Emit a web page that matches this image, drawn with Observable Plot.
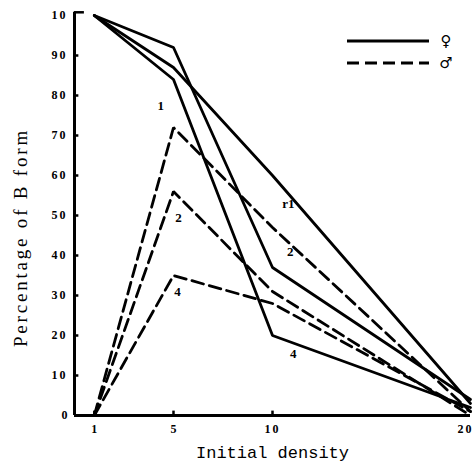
<!DOCTYPE html>
<html><head><meta charset="utf-8">
<script src="https://cdn.jsdelivr.net/npm/d3@7"></script>
<script src="https://cdn.jsdelivr.net/npm/@observablehq/plot@0.6"></script>
<style>
html,body{margin:0;padding:0;background:#fff;}
#wrap{position:relative;width:473px;height:469px;overflow:hidden;}
#legend{position:absolute;left:0;top:0;}
</style></head>
<body><div id="wrap"><div id="chart"></div><div id="legend"></div></div>
<script>
// ---- data ----
const densities = [1, 5, 10, 20];
const groups = ["1", "2", "4"];
const female1 = [100, 87, 60, 3];
const female2 = [100, 92, 37, 4];
const female4 = [100, 84, 20, 2];
const male1 = [0, 72, 47, 1];
const male2 = [0, 56, 31, 0];
const male4 = [0, 35, 28, 1];
const yTicks = [0, 10, 20, 30, 40, 50, 60, 70, 80, 90, 100];
const yTickLabels = ["0", "10", "20", "30", "40", "50", "60", "70", "80", "90", "10"];
const xTicks = [1, 5, 10, 20];
const xTickLabels = ["1", "5", "10", "20"];
const curveLabels = ["1", "2", "4", "r1", "2", "4"];
const curveLabelX = [4.35, 5.25, 5.2, 10.8, 10.9, 11.05];
const curveLabelY = [77.5, 49.3, 31, 53, 40.8, 15.5];
const xTitle = "Initial density";
const yTitle = "Percentage of B form";
const legendSymbols = ["\u2640", "\u2642"];

// ---- build tables ----
const femaleSeries = [female1, female2, female4];
const maleSeries = [male1, male2, male4];
const femaleRows = groups.flatMap((g, i) => densities.map((d, j) => ({group: g, density: d, value: femaleSeries[i][j]})));
const maleRows = groups.flatMap((g, i) => densities.map((d, j) => ({group: g, density: d, value: maleSeries[i][j]})));
const labelRows = curveLabels.map((t, i) => ({text: t, x: curveLabelX[i], y: curveLabelY[i]}));
const xTickRows = xTicks.map((v, i) => ({v, label: xTickLabels[i]}));
const lastX = xTicks[xTicks.length - 1];

const ink = "#000";
const tickFont = "Liberation Serif";

const chart = Plot.plot({
  width: 473,
  height: 469,
  marginLeft: 74,
  marginRight: 3,
  marginTop: 15,
  marginBottom: 54,
  x: {domain: [0, 20], axis: null},
  y: {domain: [0, 100]},
  style: {background: "#fff", color: ink},
  marks: [
    // axis lines
    Plot.ruleY([0], {stroke: ink, strokeWidth: 3}),
    Plot.ruleX([0], {y1: 0, y2: 100.8, stroke: ink, strokeWidth: 3}),
    Plot.ruleY([100.8], {x1: 0, x2: 0.5, stroke: ink, strokeWidth: 2.5}),
    // inward ticks
    Plot.ruleY(yTicks.filter(v => v > 0 && v < 100), {x1: 0, x2: 0.22, stroke: ink, strokeWidth: 2.5}),
    Plot.ruleX(xTicks.filter(v => v < lastX), {y1: 0, y2: 1.1, stroke: ink, strokeWidth: 2.5}),
    // tick labels
    Plot.axisY({ticks: yTicks, tickSize: 0, tickPadding: 7, tickFormat: (d) => yTickLabels[yTicks.indexOf(d)],
      fontFamily: tickFont, fontSize: 12, fontWeight: "bold"}),
    Plot.text(xTickRows.filter(d => d.v < lastX), {x: "v", text: "label", frameAnchor: "bottom", dy: 17,
      fontFamily: tickFont, fontSize: 12, fontWeight: "bold", fill: ink}),
    Plot.text(xTickRows.filter(d => d.v === lastX), {x: "v", text: "label", frameAnchor: "bottom", dy: 17, dx: 3,
      textAnchor: "end", fontFamily: tickFont, fontSize: 12, fontWeight: "bold", fill: ink}),
    // axis titles
    Plot.text([xTitle], {frameAnchor: "bottom", dy: 42, fontFamily: "Liberation Mono", fontSize: 17, fill: ink}),
    Plot.text([yTitle], {frameAnchor: "left", textAnchor: "middle", rotate: -90, dx: -54, dy: 22,
      fontFamily: "Liberation Serif", fontSize: 19, fill: ink}),
    // data lines
    Plot.line(femaleRows, {x: "density", y: "value", z: "group", stroke: ink, strokeWidth: 2.8, strokeLinejoin: "miter"}),
    Plot.line(maleRows, {x: "density", y: "value", z: "group", stroke: ink, strokeWidth: 2.8, strokeDasharray: "12,6", strokeLinejoin: "miter"}),
    // curve labels
    Plot.text(labelRows, {x: "x", y: "y", text: "text", fontFamily: tickFont, fontSize: 13, fontWeight: "bold", fill: ink})
  ]
});
document.getElementById("chart").appendChild(chart);

// letter spacing (scanned look)
d3.select(chart).selectAll("text").each(function() {
  const t = this.textContent;
  if (t === yTitle) this.style.letterSpacing = "2.8px";
  else if (/^\d+$/.test(t) && t.length === 2 && !curveLabels.includes(t)) this.style.letterSpacing = "2px";
});

// legend
const lg = d3.select("#legend").append("svg").attr("width", 473).attr("height", 80);
const legendRows = [{sym: legendSymbols[0], dash: null, y: 41}, {sym: legendSymbols[1], dash: "12,6", y: 63}];
const row = lg.selectAll("g").data(legendRows).join("g");
row.append("line").attr("x1", 347).attr("x2", 429).attr("y1", d => d.y).attr("y2", d => d.y)
  .attr("stroke", ink).attr("stroke-width", 3).attr("stroke-dasharray", d => d.dash);
row.append("text").attr("x", 446).attr("y", d => d.y).attr("dy", "0.35em").attr("text-anchor", "middle")
  .attr("font-family", "DejaVu Sans").attr("font-weight", "bold").attr("font-size", 15).text(d => d.sym);
</script>
</body></html>
